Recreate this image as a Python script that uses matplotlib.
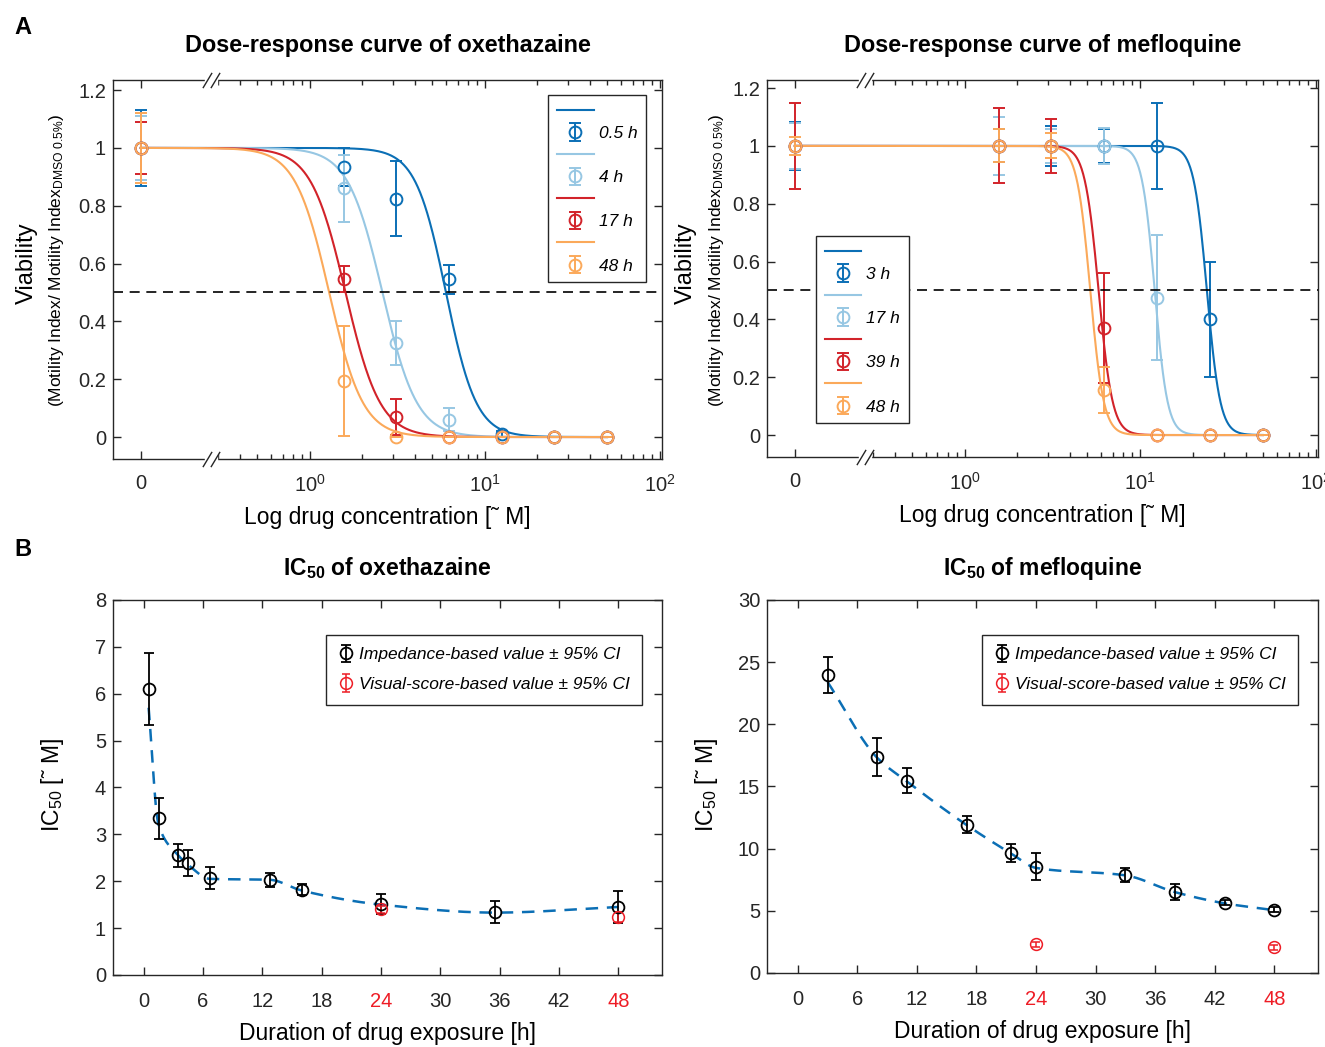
import numpy as np
import matplotlib.pyplot as plt
from matplotlib import transforms
from matplotlib.ticker import FixedLocator, NullFormatter

plt.rcParams['font.family'] = ['Liberation Sans', 'DejaVu Sans']
plt.rcParams['mathtext.fontset'] = 'custom'
plt.rcParams['mathtext.rm'] = 'Liberation Sans'
plt.rcParams['mathtext.it'] = 'Liberation Sans:italic'
plt.rcParams['mathtext.bf'] = 'Liberation Sans:bold'
plt.rcParams['axes.edgecolor'] = '#262626'
plt.rcParams['xtick.color'] = '#262626'
plt.rcParams['ytick.color'] = '#262626'

# ---------------- data ----------------
conc = [0, 1.5625, 3.125, 6.25, 12.5, 25, 50]
zero_pos = 0.108          # where concentration 0 sits on the log axis
colors = ['#0b6fb5', '#97c7e3', '#d2232a', '#fba95a']

# oxethazaine dose-response
oxe_labels = ['0.5 h', '4 h', '17 h', '48 h']
oxe_mean = [[1.0, 0.935, 0.825, 0.545, 0.01, 0, 0],
            [1.0, 0.86, 0.325, 0.06, 0, 0, 0],
            [1.0, 0.545, 0.07, 0, 0, 0, 0],
            [1.0, 0.195, 0.0, 0, 0, 0, 0]]
oxe_err = [[0.13, 0.065, 0.13, 0.05, 0.01, 0, 0],
           [0.11, 0.115, 0.075, 0.04, 0, 0, 0],
           [0.09, 0.045, 0.063, 0, 0, 0, 0],
           [0.12, 0.19, 0, 0, 0, 0, 0]]
oxe_ic50 = [6.0, 2.6, 1.6, 1.29]
oxe_hill = [5.0, 4.4, 4.4, 4.5]

# mefloquine dose-response
mef_labels = ['3 h', '17 h', '39 h', '48 h']
mef_mean = [[1.0, 1.0, 1.0, 1.0, 1.0, 0.40, 0],
            [1.0, 1.0, 1.0, 1.0, 0.475, 0, 0],
            [1.0, 1.0, 1.0, 0.37, 0, 0, 0],
            [1.0, 1.0, 1.0, 0.155, 0, 0, 0]]
mef_err = [[0.084, 0.057, 0.07, 0.06, 0.15, 0.2, 0],
           [0.08, 0.10, 0.06, 0.063, 0.217, 0, 0],
           [0.15, 0.13, 0.093, 0.19, 0, 0, 0],
           [0.032, 0.057, 0.043, 0.08, 0, 0, 0]]
mef_ic50 = [24.0, 12.1, 5.8, 5.2]
mef_hill = [11.5, 12.0, 11.0, 11.4]

# IC50 over time, oxethazaine
oxe_t = [0.5, 1.5, 3.5, 4.5, 6.7, 12.75, 16, 24, 35.5, 48]
oxe_ic = [6.10, 3.34, 2.55, 2.39, 2.07, 2.03, 1.82, 1.52, 1.345, 1.45]
oxe_ic_err = [0.76, 0.43, 0.25, 0.28, 0.23, 0.155, 0.12, 0.21, 0.24, 0.34]
oxe_fit = [5.7, 3.2, 2.55, 2.35, 2.05, 2.03, 1.8, 1.5, 1.33, 1.45]
oxe_vis_t = [24, 48]
oxe_vis = [1.40, 1.24]
oxe_vis_err = [0.08, 0.1]

# IC50 over time, mefloquine
mef_t = [3, 8, 11, 17, 21.5, 24, 33, 38, 43, 48]
mef_ic = [24.0, 17.36, 15.45, 11.92, 9.64, 8.55, 7.91, 6.5, 5.63, 5.1]
mef_ic_err = [1.45, 1.5, 1.0, 0.7, 0.72, 1.09, 0.56, 0.62, 0.2, 0.2]
mef_fit = [23.4, 17.3, 15.4, 11.9, 9.6, 8.45, 7.85, 6.5, 5.6, 5.05]
mef_vis_t = [24, 48]
mef_vis = [2.31, 2.07]
mef_vis_err = [0.2, 0.2]

hours = [0, 6, 12, 18, 24, 30, 36, 42, 48]


def pchip(x, y, xn):
    x = np.asarray(x, float)
    y = np.asarray(y, float)
    h = np.diff(x)
    d = np.diff(y) / h
    m = np.zeros_like(y)
    for k in range(1, len(x) - 1):
        if d[k - 1] * d[k] > 0:
            w1 = 2 * h[k] + h[k - 1]
            w2 = h[k] + 2 * h[k - 1]
            m[k] = (w1 + w2) / (w1 / d[k - 1] + w2 / d[k])
    m[0] = d[0]
    m[-1] = d[-1]
    i = np.clip(np.searchsorted(x, xn) - 1, 0, len(x) - 2)
    t = (xn - x[i]) / h[i]
    return ((2 * t**3 - 3 * t**2 + 1) * y[i] + (t**3 - 2 * t**2 + t) * h[i] * m[i]
            + (-2 * t**3 + 3 * t**2) * y[i + 1] + (t**3 - t**2) * h[i] * m[i + 1])


def style_box(ax, xpad):
    ax.tick_params(which='both', direction='in', top=True, right=True,
                   labelsize=14.5, width=1)
    ax.tick_params(axis='x', pad=xpad)
    ax.tick_params(axis='y', pad=5)
    ax.tick_params(which='major', length=6)
    ax.tick_params(which='minor', length=3.5)
    for s in ax.spines.values():
        s.set_linewidth(1)


def dose_panel(ax, means, errs, ic50, hill, labels, ylim):
    xplot = [zero_pos if c == 0 else c for c in conc]
    xs = np.logspace(np.log10(zero_pos), np.log10(50), 600)
    handles = []
    for i in range(4):
        ln, = ax.plot(xs, 1 / (1 + (xs / ic50[i]) ** hill[i]), color=colors[i], lw=1.5)
        eb = ax.errorbar(xplot, means[i], yerr=errs[i], fmt='o', mfc='none',
                         mec=colors[i], ecolor=colors[i], ms=8.5, mew=1.4,
                         elinewidth=1.4, capsize=4.5, capthick=1.4)
        handles += [ln, eb]
    ax.axhline(0.5, color='k', ls=(0, (6, 4)), lw=1.2)
    ax.set_xscale('log')
    ax.set_xlim(0.075, 103)
    ax.set_ylim(*ylim)
    ax.set_xticks([zero_pos, 1, 10, 100])
    ax.set_xticklabels(['0', '$10^{0}$', '$10^{1}$', '$10^{2}$'])
    minor = [v * 10.0 ** e for e in (-1, 0, 1) for v in range(2, 10) if v * 10.0 ** e > 0.28]
    ax.xaxis.set_minor_locator(FixedLocator(minor))
    ax.xaxis.set_minor_formatter(NullFormatter())
    ax.set_yticks([0, 0.2, 0.4, 0.6, 0.8, 1, 1.2])
    ax.set_yticklabels(['0', '0.2', '0.4', '0.6', '0.8', '1', '1.2'])
    style_box(ax, 11)
    ax.set_xlabel('Log drug concentration [\u02dc M]', fontsize=16.5, labelpad=7)
    # axis break marks
    tr = transforms.blended_transform_factory(ax.transData, ax.transAxes)
    for yy in (0, 1):
        ax.plot([0.272], [yy], marker='s', ms=9, mfc='white', mec='white',
                transform=tr, clip_on=False, zorder=5)
        for xx in (0.258, 0.286):
            ax.plot([xx], [yy], marker=[(-0.6, -1), (0.6, 1)], ms=11, mec='#262626',
                    mew=1, transform=tr, clip_on=False, zorder=6)
    labs = []
    for l in labels:
        labs += ['', l]
    return handles, labs


def ic_panel(ax, t, ic, err, fit, vt, v, verr, ymax, yticks):
    tt = np.linspace(t[0], t[-1], 400)
    ax.plot(tt, pchip(t, fit, tt), color='#0b6fb5', ls=(0, (5, 3.5)), lw=1.8)
    e1 = ax.errorbar(t, ic, yerr=err, fmt='o', mfc='none', mec='k', ecolor='k',
                     ms=8.5, mew=1.3, elinewidth=1.3, capsize=3.5, capthick=1.3)
    e2 = ax.errorbar(vt, v, yerr=verr, fmt='o', mfc='none', mec='#ee1c25',
                     ecolor='#ee1c25', ms=8.5, mew=1.1, elinewidth=1.1,
                     capsize=3, capthick=1.1)
    ax.set_xlim(-3.1, 52.4)
    ax.set_ylim(0, ymax)
    ax.set_xticks(hours)
    ax.set_yticks(yticks)
    style_box(ax, 12)
    for lab in ax.get_xticklabels():
        if lab.get_text() in ('24', '48'):
            lab.set_color('#ee1c25')
    ax.set_xlabel('Duration of drug exposure [h]', fontsize=16.5, labelpad=8)
    leg = ax.legend([e1, e2], ['Impedance-based value \u00b1 95% CI',
                               'Visual-score-based value \u00b1 95% CI'],
                    loc='upper right', bbox_to_anchor=(0.9636, 0.907), borderaxespad=0,
                    prop={'style': 'italic', 'size': 12.5}, handlelength=0.8,
                    handletextpad=0.35, borderpad=0.72, labelspacing=0.84,
                    fancybox=False, framealpha=1, edgecolor='#262626')
    leg.get_frame().set_linewidth(1)


fig = plt.figure(figsize=(13.25, 10.47), dpi=100)
ax1 = fig.add_axes([0.0853, 0.5616, 0.4143, 0.3620])
ax2 = fig.add_axes([0.5789, 0.5635, 0.4158, 0.3601])
ax3 = fig.add_axes([0.0853, 0.0688, 0.4143, 0.3582])
ax4 = fig.add_axes([0.5789, 0.0707, 0.4158, 0.3563])

h, l = dose_panel(ax1, oxe_mean, oxe_err, oxe_ic50, oxe_hill, oxe_labels, (-0.076, 1.235))
leg = ax1.legend(h, l, loc='upper right', bbox_to_anchor=(0.971, 0.960), borderaxespad=0,
                 prop={'style': 'italic', 'size': 12.5}, handlelength=2.1,
                 handletextpad=0.3, labelspacing=0.40, borderpad=0.5,
                 fancybox=False, framealpha=1, edgecolor='#262626')
leg.get_frame().set_linewidth(1)

h, l = dose_panel(ax2, mef_mean, mef_err, mef_ic50, mef_hill, mef_labels, (-0.076, 1.228))
leg = ax2.legend(h, l, loc='upper left', bbox_to_anchor=(0.089, 0.586), borderaxespad=0,
                 prop={'style': 'italic', 'size': 12.5}, handlelength=2.1,
                 handletextpad=0.3, labelspacing=0.40, borderpad=0.5,
                 fancybox=False, framealpha=1, edgecolor='#262626')
leg.get_frame().set_linewidth(1)

ic_panel(ax3, oxe_t, oxe_ic, oxe_ic_err, oxe_fit, oxe_vis_t, oxe_vis, oxe_vis_err,
         8, range(0, 9))
ic_panel(ax4, mef_t, mef_ic, mef_ic_err, mef_fit, mef_vis_t, mef_vis, mef_vis_err,
         30, range(0, 31, 5))

# titles
ax1.set_title('Dose-response curve of oxethazaine', fontsize=16.8, fontweight='bold', pad=20)
ax2.set_title('Dose-response curve of mefloquine', fontsize=16.8, fontweight='bold', pad=20)
ax3.set_title(r'IC$_{\mathbf{50}}$ of oxethazaine', fontsize=16.5, fontweight='bold', pad=18)
ax4.set_title(r'IC$_{\mathbf{50}}$ of mefloquine', fontsize=16.5, fontweight='bold', pad=18)

# y labels
sub = r'(Motility Index/ Motility Index$_{\mathrm{DMSO\ 0.5\%}}$)'
for x0, x1 in ((27, 57), (686, 716)):
    fig.text(x0 / 1325, 1 - 263 / 1047, 'Viability', rotation=90, fontsize=17,
             ha='center', va='center')
    fig.text(x1 / 1325, 1 - 260 / 1047, sub, rotation=90, fontsize=12.5,
             ha='center', va='center')
for x0 in (52, 706):
    fig.text(x0 / 1325, 1 - 785 / 1047, 'IC$_{50}$ [\u02dc M]',
             rotation=90, fontsize=16.5, ha='center', va='center')

fig.text(14 / 1325, 1 - 27 / 1047, 'A', fontsize=17, fontweight='bold', va='center')
fig.text(14 / 1325, 1 - 549 / 1047, 'B', fontsize=17, fontweight='bold', va='center')

fig.savefig('out.png', dpi=100)
